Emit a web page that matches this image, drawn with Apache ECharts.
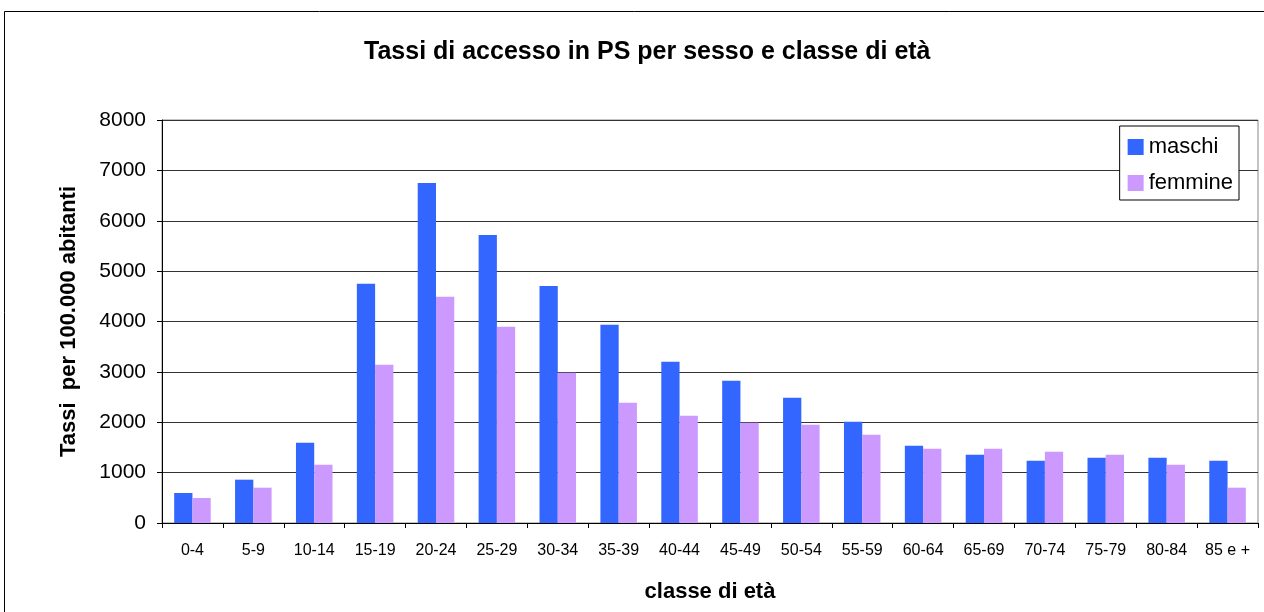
<!DOCTYPE html>
<html><head><meta charset="utf-8">
<script src="https://cdn.jsdelivr.net/npm/echarts@6/dist/echarts.min.js"></script>
<style>html,body{margin:0;padding:0;background:#fff}#c{width:1264px;height:612px}</style>
</head><body><div id="c"></div>
<script>
const categories = ['0-4','5-9','10-14','15-19','20-24','25-29','30-34','35-39','40-44','45-49','50-54','55-59','60-64','65-69','70-74','75-79','80-84','85 e +'];
const maschi = [595,860,1593,4747,6750,5719,4707,3934,3200,2823,2486,2010,1534,1355,1236,1296,1296,1236];
const femmine = [496,701,1157,3140,4489,3894,2982,2387,2129,1990,1950,1752,1474,1474,1415,1355,1157,701];
const yTicks = [0,1000,2000,3000,4000,5000,6000,7000,8000];

const chart = echarts.init(document.getElementById('c'));
const F = 'Liberation Sans, Arial, sans-serif';
chart.setOption({
  animation:false,
  title:{text:'Tassi di accesso in PS per sesso e classe di età',left:359,top:35,
    textStyle:{fontFamily:F,fontSize:25,fontWeight:'bold',color:'#000'}},
  graphic:[{type:'rect',shape:{x:4.5,y:11.5,width:1280,height:640},style:{fill:null,stroke:'#000',lineWidth:1},z:-1}],
  legend:{right:25,top:126,orient:'vertical',itemWidth:16,itemHeight:16,itemGap:14,
    padding:[10,6,6,8],borderColor:'#000',borderWidth:1,backgroundColor:'#fff',
    textStyle:{fontFamily:F,fontSize:22,color:'#000',lineHeight:16},
    icon:'rect',data:['maschi','femmine']},
  grid:{left:162,right:6,top:120,bottom:89,containLabel:false,show:true,borderColor:'#888',borderWidth:1},
  xAxis:{type:'category',data:categories,boundaryGap:true,
    name:'classe di età',nameLocation:'middle',nameGap:58,
    nameTextStyle:{fontFamily:F,fontSize:22,fontWeight:'bold',color:'#000'},
    axisLine:{lineStyle:{color:'#000'}},
    axisTick:{show:true,alignWithLabel:false,length:5,lineStyle:{color:'#000'}},
    axisLabel:{fontFamily:F,fontSize:16,color:'#000',margin:20,interval:0}},
  yAxis:{type:'value',min:0,max:8000,interval:1000,
    name:'Tassi  per 100.000 abitanti',nameLocation:'middle',nameGap:82,
    nameTextStyle:{fontFamily:F,fontSize:22,fontWeight:'bold',color:'#000'},
    axisLine:{show:true,lineStyle:{color:'#000'}},
    axisTick:{show:true,length:5,lineStyle:{color:'#000'}},
    axisLabel:{fontFamily:F,fontSize:21,color:'#000',margin:16,
      formatter:v=>yTicks.includes(v)?String(v):''},
    splitLine:{lineStyle:{color:'#333',width:1}}},
  series:[
    {name:'maschi',type:'bar',data:maschi,itemStyle:{color:'#3366FF'},barGap:'0%',barCategoryGap:'40%'},
    {name:'femmine',type:'bar',data:femmine,itemStyle:{color:'#CC99FF'},barGap:'0%',barCategoryGap:'40%'}
  ]
});
</script></body></html>
